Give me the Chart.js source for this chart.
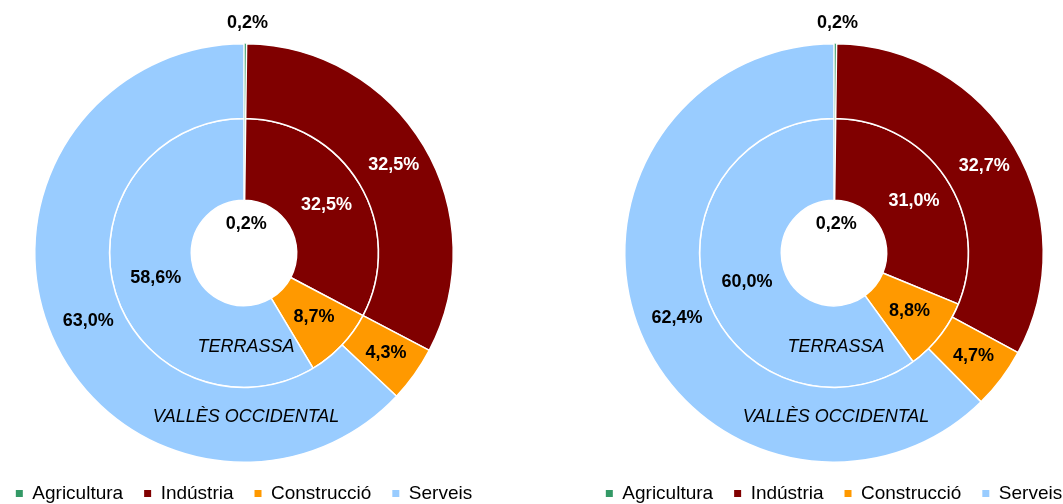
<!DOCTYPE html>
<html>
<head>
<meta charset="utf-8">
<script src="https://cdn.jsdelivr.net/npm/chart.js@4.4.1/dist/chart.umd.min.js"></script>
<style>
  html, body { margin: 0; padding: 0; background: #fff; overflow: hidden; }
  body { width: 1063px; height: 504px; position: relative; }
  canvas { position: absolute; top: 0; }
  #left { left: -36px; }
  #right { left: 554px; }
</style>
</head>
<body>
<canvas id="left" width="560" height="504"></canvas>
<canvas id="right" width="560" height="504"></canvas>
<script>
// sectors, same order in both charts
const categories = ['Agricultura', 'Indústria', 'Construcció', 'Serveis'];
const sectorColors = ['#339966', '#800000', '#FF9900', '#99CCFF'];
const ringNames = ['VALLÈS OCCIDENTAL', 'TERRASSA'];

// left chart (outer ring = Vallès Occidental, inner ring = Terrassa)
const vallesLeft = [0.2, 32.5, 4.3, 63.0];
const terrassaLeft = [0.2, 32.5, 8.7, 58.6];

// right chart
const vallesRight = [0.2, 32.7, 4.7, 62.4];
const terrassaRight = [0.2, 31.0, 8.8, 60.0];

const FONT = "'Liberation Sans', Arial, sans-serif";

function fmt(v) {
    return v.toFixed(1).replace('.', ',') + '%';
}

// draws the percent labels and the ring names
const ringLabels = {
    id: 'ringLabels',
    afterDatasetsDraw(chart) {
        const ctx = chart.ctx;
        ctx.save();
        ctx.textAlign = 'center';
        ctx.textBaseline = 'middle';
        chart.data.datasets.forEach((ds, di) => {
            const meta = chart.getDatasetMeta(di);
            meta.data.forEach((arc, i) => {
                const p = arc.getProps(['x', 'y', 'startAngle', 'endAngle', 'innerRadius', 'outerRadius'], true);
                const mid = (p.startAngle + p.endAngle) / 2;
                let r = (p.innerRadius + p.outerRadius) / 2;
                // tiny slices: outer one goes above the ring, inner one into the hole
                if (ds.data[i] < 1) r = di === 0 ? p.outerRadius + 21 : p.innerRadius * 0.55;
                ctx.font = 'bold 18px ' + FONT;
                ctx.fillStyle = (i === 1 && ds.data[i] >= 1) ? '#fff' : '#000';
                ctx.fillText(fmt(ds.data[i]), p.x + Math.cos(mid) * r + 2, p.y + Math.sin(mid) * r);
            });
            const a = meta.data[0].getProps(['x', 'y', 'innerRadius', 'outerRadius'], true);
            ctx.font = 'italic 18px ' + FONT;
            ctx.fillStyle = '#000';
            ctx.fillText(ds.label, a.x + 2, a.y + a.innerRadius + (a.outerRadius - a.innerRadius) * ds.namePos);
        });
        ctx.restore();
    }
};

function makeChart(id, outer, inner) {
    const ring = (label, data, weight, namePos) => ({
        label: label,
        data: data,
        weight: weight,
        namePos: namePos,
        backgroundColor: sectorColors,
        borderColor: '#fff',
        borderWidth: [0, 1.5, 1.5, 1.5]
    });
    return new Chart(document.getElementById(id), {
        type: 'doughnut',
        data: {
            labels: categories,
            datasets: [
                ring(ringNames[0], outer, 75, 0.39),
                ring(ringNames[1], inner, 82, 0.50)
            ]
        },
        options: {
            responsive: false,
            animation: false,
            devicePixelRatio: 1,
            cutout: '25.2%',
            layout: { padding: { top: 43, bottom: 0 } },
            plugins: {
                tooltip: { enabled: false },
                legend: {
                    position: 'bottom',
                    maxHeight: 41,
                    labels: {
                        color: '#000',
                        font: { family: FONT, size: 19 },
                        boxWidth: 7,
                        boxHeight: 7,
                        padding: 21,
                        generateLabels: (chart) => categories.map((c, i) => ({
                            text: c,
                            fillStyle: sectorColors[i],
                            strokeStyle: sectorColors[i],
                            lineWidth: 0,
                            fontColor: '#000',
                            index: i
                        }))
                    }
                }
            }
        },
        plugins: [ringLabels]
    });
}

makeChart('left', vallesLeft, terrassaLeft);
makeChart('right', vallesRight, terrassaRight);
</script>
</body>
</html>
